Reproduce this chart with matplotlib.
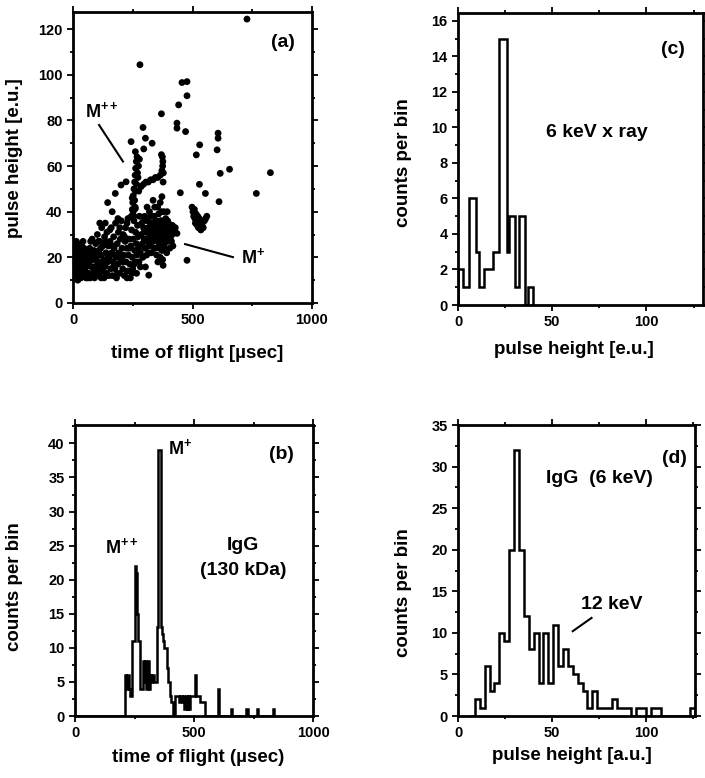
import numpy as np
import matplotlib
matplotlib.use("Agg")
import matplotlib.pyplot as plt
from matplotlib.ticker import MultipleLocator

plt.rcParams['font.family'] = ['Liberation Sans', 'DejaVu Sans']
plt.rcParams['font.weight'] = 'bold'
plt.rcParams['mathtext.fontset'] = 'custom'
plt.rcParams['mathtext.rm'] = 'Liberation Sans:bold'
plt.rcParams['mathtext.it'] = 'Liberation Sans:bold'
plt.rcParams['mathtext.bf'] = 'Liberation Sans:bold'
plt.rcParams['mathtext.default'] = 'rm'

# ---------------- (a) pulse height vs time of flight ----------------
low_tof_cluster = [
    (5, 24), (8, 19), (10, 14), (12, 22), (15, 17), (18, 12), (20, 25), (22, 20), (25, 15), (28, 11),
    (30, 18), (32, 23), (35, 13), (38, 16), (40, 21), (42, 27), (45, 12), (48, 18), (50, 14), (52, 23),
    (55, 11), (58, 16), (60, 20), (3, 16), (6, 12), (14, 27), (26, 21), (36, 26), (46, 24), (54, 19),
    (65, 13), (68, 18), (70, 24), (72, 11), (75, 16), (78, 21), (80, 28), (82, 13), (85, 19), (88, 23),
    (90, 11), (92, 16), (95, 26), (98, 20), (100, 14), (102, 30), (105, 18), (108, 23), (110, 12), (112, 27),
    (115, 16), (118, 21), (120, 33), (122, 14), (125, 25), (128, 19), (130, 11), (132, 29), (135, 16), (138, 22),
    (140, 13), (142, 31), (145, 18), (148, 25), (150, 12), (112, 35),
    (2, 20), (9, 26), (16, 21), (24, 24), (33, 19), (44, 16), (57, 13), (63, 22), (74, 27), (86, 15),
    (96, 22), (106, 27), (116, 24), (126, 17), (136, 27), (146, 21), (97, 12), (118, 11), (138, 12), (62, 11),
    (33, 11), (20, 10),
]
mid_tof_cluster = [
    (152, 20), (155, 27), (158, 15), (160, 33), (162, 22), (165, 12), (168, 18), (170, 29), (172, 24), (175, 15),
    (178, 35), (180, 20), (182, 11), (185, 26), (188, 17), (190, 31), (192, 22), (195, 13), (198, 28), (200, 19),
    (202, 36), (205, 24), (208, 15), (210, 30), (212, 21), (215, 12), (218, 27), (220, 33), (222, 18), (225, 24),
    (228, 14), (230, 37), (232, 21), (235, 28), (238, 17), (240, 11), (242, 25), (245, 32), (248, 20), (250, 15),
    (252, 28), (255, 36), (258, 23), (260, 18), (262, 31), (265, 26), (268, 21), (270, 34), (272, 29), (275, 24),
    (278, 38),
    (154, 32), (166, 25), (176, 21), (186, 13), (196, 33), (206, 20), (216, 29), (226, 11), (236, 24), (246, 13),
    (256, 17), (266, 13), (276, 18), (226, 35), (244, 38), (188, 37), (164, 40), (170, 16), (210, 18),
]
single_charge_cluster = [
    (282, 22), (285, 30), (288, 35), (290, 26), (292, 20), (295, 33), (298, 28), (300, 38), (302, 24), (305, 31),
    (308, 21), (310, 36), (312, 27), (315, 33), (318, 25), (320, 40), (322, 29), (325, 35), (328, 22), (330, 31),
    (332, 38), (335, 27), (338, 33), (340, 24), (342, 42), (345, 30), (348, 36), (350, 21), (352, 28), (355, 34),
    (358, 39), (360, 26), (362, 32), (365, 44), (368, 30), (370, 36), (372, 23), (375, 28), (378, 34), (380, 40),
    (382, 26), (385, 31), (388, 37), (390, 29), (392, 22), (395, 33), (398, 27), (400, 35), (402, 31), (405, 24),
    (408, 29), (410, 33), (412, 27), (415, 30), (418, 25), (375, 19), (365, 20), (355, 18), (345, 24), (335, 45),
    (310, 42),
    (284, 25), (296, 37), (306, 28), (316, 22), (326, 38), (336, 30), (346, 34), (356, 27), (366, 36), (376, 32),
    (386, 24), (396, 36), (406, 28), (416, 34), (324, 26), (344, 28), (364, 24), (384, 35), (404, 32), (394, 40),
    (354, 42), (299, 32), (339, 38), (360, 30), (380, 29), (390, 34), (370, 40), (350, 31), (330, 35), (320, 33),
]
double_charge_cluster = [
    (248, 41), (250, 44), (252, 47), (255, 50), (258, 53), (260, 56), (262, 59), (265, 62), (268, 64), (252, 40),
    (258, 45), (262, 49), (266, 52), (270, 57), (274, 60), (278, 63), (255, 38), (248, 46), (260, 42), (272, 55),
    (275, 49), (285, 51), (295, 52), (305, 53), (315, 53), (325, 54), (335, 54), (345, 55), (355, 55), (365, 56),
    (372, 58), (375, 60), (376, 62), (374, 64), (370, 65), (378, 57), (377, 53),
]
late_cluster = [
    (498, 42), (502, 40), (505, 38), (510, 37), (512, 35), (515, 39), (518, 36), (520, 34), (525, 33), (528, 37),
    (532, 35), (535, 32), (540, 34), (545, 33), (550, 36), (555, 37), (560, 38), (508, 41), (522, 38), (538, 36),
    (420, 31), (428, 33), (406, 30),
]
scattered_events = [
    (728, 124.4), (280, 104.4), (456, 96.6), (477, 97), (477, 90.8), (442, 86.8), (370, 82.9), (435, 78.8),
    (435, 76.6), (471, 75.1), (293, 76.9), (243, 70.7), (303, 72.2), (331, 70), (261, 66.3), (296, 67.5),
    (530, 69.3), (607, 74.4), (607, 72.2), (603, 67.1), (516, 64.9), (616, 56.8), (655, 58.6), (826, 57.1),
    (529, 52), (554, 48), (611, 44.4), (449, 48.3), (767, 48), (477, 18.7), (377, 16.5), (282, 15.8),
    (303, 15.8), (317, 12.2), (435, 30.5), (372, 46.6), (177, 48), (145, 44), (201, 51.7), (222, 53.1),
    (261, 41.4), (135, 35),
]

# ---------------- (b) time-of-flight histogram (5 usec bins from 200 usec) ----------------
tof_bin_start = 200
tof_bin_width = 5
tof_counts = [
    0, 0, 6, 4, 6, 4, 3, 3, 11, 11,
    22, 21, 15, 11, 11, 4, 4, 8, 5, 8,
    4, 8, 4, 6, 5, 6, 5, 5, 5, 13,
    39, 39, 13, 12, 11, 10, 10, 7, 5, 5,
    3, 2, 0, 0, 3, 3, 3, 2, 3, 3,
    2, 3, 1, 3, 1, 3, 1, 3, 3, 3,
    3, 6, 3, 3, 3, 2, 2, 2, 2, 0,
    0, 0, 0, 0, 0, 0, 0, 0, 0, 0,
    4, 0, 0, 0, 0, 0, 0, 0, 0, 0,
    0, 1, 0, 0, 0, 0, 0, 0, 0, 0,
    0, 0, 0, 0, 1, 0, 0, 0, 0, 0,
    0, 0, 0, 1, 0, 0, 0, 0, 0, 0,
    0, 0, 0, 0, 0, 0, 1, 0,
]

# ---------------- (c) 6 keV x-ray pulse height spectrum ----------------
xray_edges = [0, 2.8, 5.8, 9.3, 11.1, 13.9, 18.7, 22.0, 25.8, 27.0, 30.2, 32.3, 35.4, 36.9, 39.8]
xray_counts = [2, 1, 6, 3, 1, 2, 3, 15, 3, 5, 1, 5, 0, 1]

# ---------------- (d) IgG pulse height spectrum ----------------
igg_bin_start = 6.4
igg_bin_width = 2.6
igg_counts = [
    0, 2, 1, 6, 3, 4, 10, 9, 20, 32,
    20, 12, 8, 10, 4, 10, 4, 11, 6, 8,
    6, 5, 4, 3, 1, 3, 1, 1, 1, 2,
    1, 1, 1, 0, 1, 1, 0, 1, 1, 0,
    0, 0, 0, 0, 0, 1,
]

W, H = 705, 778
fig = plt.figure(figsize=(W / 100, H / 100), dpi=100)


def box(l, t, r, b):
    return [l / W, 1 - b / H, (r - l) / W, (b - t) / H]


ax_a = fig.add_axes(box(73, 12, 312, 303))
ax_c = fig.add_axes(box(458, 13, 703, 305))
ax_b = fig.add_axes(box(75, 425, 313, 716))
ax_d = fig.add_axes(box(458, 425, 695, 716))

LW = 1.8


def style(ax, xmaj, xmin, ymaj, ymin):
    for s in ax.spines.values():
        s.set_linewidth(2.0)
    ax.xaxis.set_major_locator(MultipleLocator(xmaj))
    ax.xaxis.set_minor_locator(MultipleLocator(xmin))
    ax.yaxis.set_major_locator(MultipleLocator(ymaj))
    ax.yaxis.set_minor_locator(MultipleLocator(ymin))
    ax.tick_params(which='both', direction='out', top=True, right=True, width=1.3,
                   labelsize=10.5, pad=3)
    ax.tick_params(which='major', length=4.5)
    ax.tick_params(which='minor', length=2.5)
    for lab in ax.get_xticklabels() + ax.get_yticklabels():
        lab.set_fontweight('bold')


TXT = dict(fontsize=14, fontweight='bold', ha='center', va='center')

# (a)
pts = np.array(low_tof_cluster + mid_tof_cluster + single_charge_cluster
               + double_charge_cluster + late_cluster + scattered_events, dtype=float)
ax_a.scatter(pts[:, 0], pts[:, 1], s=24, color='black', edgecolors='none')
ax_a.set_xlim(0, 1000)
ax_a.set_ylim(0, 127.5)
style(ax_a, 500, 250, 20, 10)
ax_a.text(879, 114, '(a)', **TXT)
ax_a.text(121, 84, r'M$^{++}$', fontsize=13, fontweight='bold', ha='center', va='center')
ax_a.plot([109, 209], [78, 62], color='black', lw=1.5)
ax_a.text(752, 20, r'M$^{+}$', fontsize=13, fontweight='bold', ha='center', va='center')
ax_a.plot([469, 669], [25.8, 20.1], color='black', lw=1.5)

# (b)
tof_edges = tof_bin_start + tof_bin_width * np.arange(len(tof_counts) + 1)
ax_b.plot([0, tof_edges[0]], [0, 0], color='black', lw=LW)
ax_b.stairs(tof_counts, tof_edges, color='black', lw=LW, baseline=0)
ax_b.set_xlim(0, 1000)
ax_b.set_ylim(0, 42.7)
style(ax_b, 500, 250, 5, 2.5)
ax_b.text(869, 38.3, '(b)', **TXT)
ax_b.text(197, 24.8, r'M$^{++}$', fontsize=13, fontweight='bold', ha='center', va='center')
ax_b.text(441, 39.3, r'M$^{+}$', fontsize=13, fontweight='bold', ha='center', va='center')
ax_b.text(705, 25.0, 'IgG', **TXT)
ax_b.text(705, 21.3, '(130 kDa)', **TXT)

# (c)
ax_c.stairs(xray_counts, xray_edges, color='black', lw=LW, baseline=0)
ax_c.set_xlim(0, 130)
ax_c.set_ylim(0, 16.45)
style(ax_c, 50, 25, 2, 1)
ax_c.text(114, 14.4, '(c)', **TXT)
ax_c.text(73.5, 9.7, '6 keV x ray', **TXT)

# (d)
igg_edges = igg_bin_start + igg_bin_width * np.arange(len(igg_counts) + 1)
ax_d.stairs(igg_counts, igg_edges, color='black', lw=LW, baseline=0)
ax_d.set_xlim(0, 126)
ax_d.set_ylim(0, 35)
style(ax_d, 50, 25, 5, 2.5)
ax_d.text(115, 31, '(d)', **TXT)
ax_d.text(75, 28.6, 'IgG  (6 keV)', **TXT)
ax_d.text(82, 13.4, '12 keV', **TXT)
ax_d.plot([61, 71], [10.2, 11.8], color='black', lw=1.5)

# axis labels
LAB = dict(fontsize=13.5, fontweight='bold', ha='center', va='center')
fig.text(15 / W, 1 - 158 / H, 'pulse height [e.u.]', rotation=90, **LAB)
fig.text(197 / W, 1 - 353 / H, 'time of flight [\u00b5sec]', **LAB)
fig.text(403 / W, 1 - 163 / H, 'counts per bin', rotation=90, **LAB)
fig.text(574 / W, 1 - 350 / H, 'pulse height [e.u.]', **LAB)
fig.text(15 / W, 1 - 587 / H, 'counts per bin', rotation=90, **LAB)
fig.text(198 / W, 1 - 758 / H, 'time of flight (\u00b5sec)', **LAB)
fig.text(403 / W, 1 - 593 / H, 'counts per bin', rotation=90, **LAB)
fig.text(572 / W, 1 - 755 / H, 'pulse height [a.u.]', **LAB)

fig.savefig('out.png', dpi=100)
